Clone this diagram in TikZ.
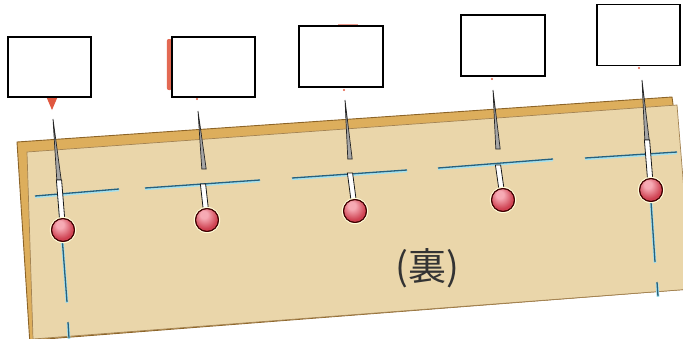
\documentclass[tikz,border=0pt]{standalone}
\usepackage{fontspec}
\newfontfamily\jpfont{Noto Sans CJK JP}
\definecolor{beige}{RGB}{234,214,170}
\definecolor{goldfill}{RGB}{221,174,92}
\definecolor{goldline}{RGB}{140,100,40}
\definecolor{tealline}{RGB}{40,96,124}
\definecolor{cyanglow}{RGB}{165,225,238}
\definecolor{pinred}{RGB}{206,64,80}
\definecolor{pinlight}{RGB}{246,170,180}
\definecolor{pindark}{RGB}{160,40,55}
\definecolor{labelred}{RGB}{224,88,64}
\pgfdeclareradialshading{pinball}{\pgfpoint{-8bp}{14bp}}{color(0bp)=(pinlight); color(8bp)=(pinlight); color(26bp)=(pinred); color(42bp)=(pinred); color(50bp)=(pindark)}
\tikzset{
  labelbox/.style={draw=black, line width=1.3pt, fill=white, minimum width=#1, inner sep=0pt},
  glow/.style={cyanglow, line width=2.8pt},
  thread/.style={tealline, line width=1.3pt},
  needle/.style={draw=black!85, fill=black!35, line width=0.7pt},
  shaft/.style={draw=black!90, fill=white, line width=0.8pt},
  pinhead/.style={draw=black!75!red, line width=0.9pt, shading=pinball},
}
\begin{document}
\begin{tikzpicture}[x=1pt,y=-1pt]
\useasboundingbox (0,0) rectangle (683,338);
\clip (0,0) rectangle (683,338);
% back sheet
\fill[goldfill, draw=goldline, line width=0.9pt] (17,142) -- (672,97) -- (674,112) -- (690,289) -- (33,340) -- (30,345) -- cycle;
% front sheet
\fill[beige, draw=goldline!80, line width=0.7pt] (27,152) -- (677,105) -- (692,289) -- (33,339) -- cycle;
% red remnants behind the boxes
\fill[labelred] (46,96) -- (58,96) -- (52,110) -- cycle;
\fill[labelred!90, rounded corners=2pt] (166.8,39) rectangle (172,90);
\fill[labelred!60] (338,24) rectangle (358,26.5);
\fill[labelred] (197,99) circle (1.2);
\fill[labelred] (344,90) circle (1.2);
\fill[labelred] (492,79) circle (1.2);
\fill[labelred] (639,68) circle (1.2);
% thread lines (glow then line)
\foreach \ax/\ay/\bx/\by in {35/196/119/189, 145/188/260/180, 292/178/407/170, 438/168/553/159, 585/158/677/152,
  58/183/67/302, 68/322/69/338, 647/142/655/262, 657/282/658/296}{
  \draw[glow] (\ax,\ay+0.8) -- (\bx,\by+0.8);
  \draw[thread] (\ax,\ay) -- (\bx,\by);
}
% pins: tip / needle end / shaft start / head
\foreach \n/\tx/\ty/\ex/\ey/\sx/\sy/\hx/\hy in {
  1/53/119/59/180/59/180/63/230,
  2/198/111/204/169/203/184/207/220,
  3/345/100/350/159/350/173/355/211,
  4/493/90/498/149/498/165/503/200,
  5/642/80/647/140/647/140/651/190}{
  \coordinate (tip\n) at (\tx,\ty);
  \coordinate (head\n) at (\hx,\hy);
  \draw[needle] (tip\n) -- (\ex-2.2,\ey) -- (\ex+2.2,\ey) -- cycle;
  \draw[shaft] (\sx-2.6,\sy) -- (\sx+2.6,\sy) -- (\hx+2.6,\hy) -- (\hx-2.6,\hy) -- cycle;
  \fill[white!85!yellow] (head\n) circle (13.2);
  \shade[pinhead] (head\n) circle (11.5);
  \draw[draw=black!75!red, line width=0.9pt] (head\n) circle (11.5);
}
% label boxes
\node[labelbox=83pt, minimum height=60pt] (b1) at (49.5,67) {};
\node[labelbox=83pt, minimum height=60pt] (b2) at (213.5,67) {};
\node[labelbox=84pt, minimum height=61pt] (b3) at (341,56.5) {};
\node[labelbox=84pt, minimum height=61pt] (b4) at (503,45.5) {};
\node[labelbox=83pt, minimum height=61pt] (b5) at (638.5,35) {};
% text
\node[font=\jpfont\fontsize{38}{38}\selectfont, text=black!80, inner sep=0pt] (ura) at (427,268) {(裏)};
\end{tikzpicture}
\end{document}
